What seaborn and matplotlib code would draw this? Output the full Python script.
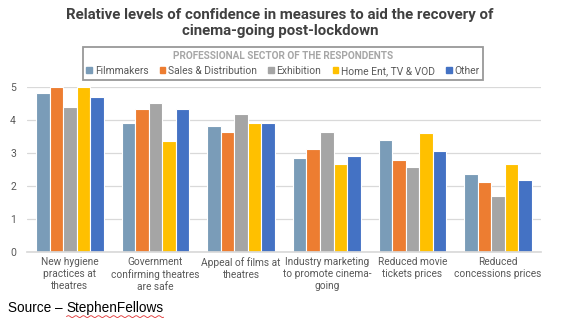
import matplotlib
matplotlib.use("Agg")
import matplotlib.pyplot as plt
import numpy as np
import pandas as pd
import seaborn as sns

measures = [
    "New hygiene\npractices at\ntheatres",
    "Government\nconfirming theatres\nare safe",
    "Appeal of films at\ntheatres",
    "Industry marketing\nto promote cinema-\ngoing",
    "Reduced movie\ntickets prices",
    "Reduced\nconcessions prices",
]
sectors = ["Filmmakers", "Sales & Distribution", "Exhibition", "Home Ent, TV & VOD", "Other"]

filmmakers = [4.82, 3.89, 3.81, 2.85, 3.38, 2.37]
sales_distribution = [5.00, 4.33, 3.62, 3.11, 2.78, 2.10]
exhibition = [4.39, 4.50, 4.17, 3.64, 2.56, 1.69]
home_ent = [5.00, 3.35, 3.89, 2.65, 3.61, 2.65]
other = [4.68, 4.33, 3.89, 2.89, 3.05, 2.18]

palette = ["#7A9CB8", "#ED7D31", "#A5A5A5", "#FFC000", "#4472C4"]

series = [filmmakers, sales_distribution, exhibition, home_ent, other]
df = pd.DataFrame(
    [(m, s, v) for s, vals in zip(sectors, series) for m, v in zip(measures, vals)],
    columns=["measure", "sector", "score"],
)

sns.set_theme(style="white")
plt.rcParams["font.family"] = ["Roboto", "DejaVu Sans"]

fig = plt.figure(figsize=(5.81, 3.25), dpi=100)
ax = fig.add_axes([0.0465, 0.2255, 0.8845, 0.5075])

sns.barplot(
    data=df, x="measure", y="score", hue="sector", order=measures,
    hue_order=sectors, palette=palette, width=0.79, edgecolor="white",
    linewidth=0.8, saturation=1, ax=ax, errorbar=None,
)

ax.set_ylim(0, 5)
ax.set_xlim(-0.5, 5.5)
ax.set_yticks(range(6))
ax.yaxis.grid(True, color="#D9D9D9", linewidth=0.9)
ax.set_axisbelow(True)
for side in ["left", "right", "top"]:
    ax.spines[side].set_visible(False)
ax.spines["bottom"].set_color("#D9D9D9")
ax.set_xlabel("")
ax.set_ylabel("")
ax.tick_params(axis="y", labelsize=7.5, labelcolor="#595959", length=0, pad=8)
ax.tick_params(axis="x", labelsize=7.3, labelcolor="#595959", length=0, pad=4)
for lbl in ax.get_xticklabels():
    lbl.set_linespacing(1.25)

ax.get_legend().remove()
handles = [plt.Rectangle((0, 0), 1, 1, color=c) for c in palette]
leg = fig.legend(
    handles, sectors, ncol=5, loc="center", bbox_to_anchor=(0.487, 0.805),
    title="PROFESSIONAL SECTOR OF THE RESPONDENTS", frameon=True, fancybox=False,
    handlelength=0.55, handleheight=0.55, handletextpad=0.25, columnspacing=1.1,
    prop={"size": 7.4}, borderpad=0.35,
)
leg.get_title().set_fontsize(7.2)
leg.get_title().set_color("#A6A6A6")
leg.get_title().set_fontweight("bold")
for t in leg.get_texts():
    t.set_color("#595959")
leg.get_frame().set_edgecolor("#7F7F7F")
leg.get_frame().set_linewidth(1.3)

fig.text(0.482, 0.929, "Relative levels of confidence in measures to aid the recovery of\ncinema-going post-lockdown",
         ha="center", va="center", fontsize=10.8, fontweight="bold", color="#404040",
         linespacing=1.2)

prefix = fig.text(0.014, 0.052, "Source \u2013 ", ha="left", va="center",
                  fontsize=9.8, color="black", family=["Liberation Sans", "DejaVu Sans"])
renderer = fig.canvas.get_renderer()
pbox = prefix.get_window_extent(renderer)
name = fig.text(pbox.x1 / fig.bbox.width, 0.052, "StephenFellows", ha="left", va="center",
                fontsize=9.8, color="black", family=["Liberation Sans", "DejaVu Sans"])
nbox = name.get_window_extent(renderer)

# spell-check style wavy underline beneath the name
xs = np.linspace(nbox.x0, nbox.x1, 120)
ys = nbox.y0 - 1.5 + 0.9 * np.sin((xs - nbox.x0) / 1.2)
fig.add_artist(plt.Line2D(xs / fig.bbox.width, ys / fig.bbox.height,
                          color="#E03030", linewidth=0.6))

fig.savefig("out.png", dpi=100)
